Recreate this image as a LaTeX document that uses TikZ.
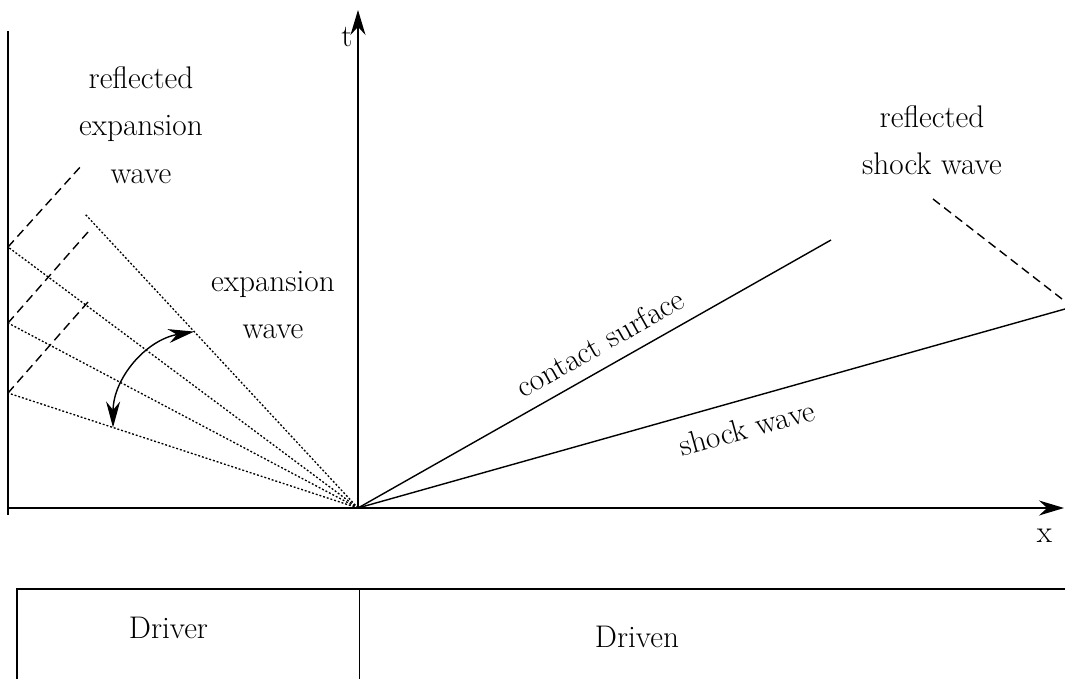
\documentclass[tikz,border=0pt]{standalone}
\usetikzlibrary{arrows.meta,calc}

\begin{document}
\begin{tikzpicture}[
    every node/.style={font=\fontsize{17.8}{27}\selectfont},
    axis/.style={-{Stealth[length=0.5cm, width=0.3cm]}, line width=0.8pt},
    wave/.style={line width=0.8pt},
    fan/.style={line width=0.75pt, dash pattern=on 1.1pt off 1.1pt},
    reflect/.style={line width=0.8pt, dash pattern=on 5pt off 3pt},
    swing/.style={{Stealth[length=0.52cm, width=0.28cm]}-{Stealth[length=0.52cm, width=0.28cm]}, line width=0.8pt},
    lbl/.style={align=center}
]
\useasboundingbox (-7.16,-3.4) rectangle (14.14,10.16);
\coordinate (origin) at (0,0);
\coordinate (ttop) at (0,9.96);
\coordinate (xleft) at (-7.0,0);
\coordinate (xright) at (14.12,0);
\coordinate (walltop) at (-7.0,9.54);
\coordinate (wallbot) at (-7.0,-0.14);
\coordinate (fanA) at (-5.46,5.88);
\coordinate (fanB) at (-7,5.22);
\coordinate (fanC) at (-7,3.70);
\coordinate (fanD) at (-7,2.30);
\coordinate (reflB) at (-5.52,6.86);
\coordinate (reflC) at (-5.4,5.52);
\coordinate (reflD) at (-5.4,4.12);
\coordinate (swingA) at ($(origin)!0.6!(fanA)$);
\coordinate (swingB) at ($(origin)!0.7!(fanD)$);
\coordinate (contact) at (9.46,5.36);
\coordinate (shock) at (14.14,3.98);
\coordinate (rshockA) at (11.5,6.18);
\coordinate (rshockB) at (14.08,4.18);
\coordinate (tubeL) at (-6.82,-1.62);
\coordinate (tubeLb) at (-6.82,-3.5);
\coordinate (tubeR) at (14.14,-1.62);
\coordinate (tubeM) at (0.03,-1.62);
\coordinate (tubeMb) at (0.03,-3.5);

% expansion fan and its reflection
\draw[fan] (origin) -- (fanA);
\draw[fan] (origin) -- (fanB);
\draw[fan] (origin) -- (fanC);
\draw[fan] (origin) -- (fanD);
\draw[reflect] (fanB) -- (reflB);
\draw[reflect] (fanC) -- (reflC);
\draw[reflect] (fanD) -- (reflD);
\draw[swing] (swingA) to[bend right=40] (swingB);

% waves right of the diaphragm
\draw[wave] (origin) -- (contact);
\draw[wave] (origin) -- (shock);
\draw[reflect] (rshockA) -- (rshockB);

% axes and end wall
\draw[wave] (walltop) -- (wallbot);
\draw[axis] (origin) -- (ttop);
\draw[axis] (xleft) -- (xright);

% tube
\draw[wave] (tubeLb) -- (tubeL) -- (tubeR);
\draw[wave] (tubeM) -- (tubeMb);

\node[lbl] (reflexp) at (-4.34,7.66) {reflected\\expansion\\wave};
\node[lbl] (expwave) at (-1.7,4.06) {expansion\\wave};
\node[lbl] (reflshock) at (11.48,7.36) {reflected\\shock wave};
\node[rotate=29.5] (contactlbl) at (4.84,3.3) {contact surface};
\node[rotate=15.5] (shocklbl) at (7.78,1.6) {shock wave};
\node[anchor=base] (driver) at (-3.79,-2.6) {Driver};
\node[anchor=base] (driven) at (5.58,-2.78) {Driven};
\node[anchor=base] (tlbl) at (-0.22,9.22) {t};
\node[anchor=base] (xlbl) at (13.73,-0.68) {x};
\end{tikzpicture}
\end{document}
